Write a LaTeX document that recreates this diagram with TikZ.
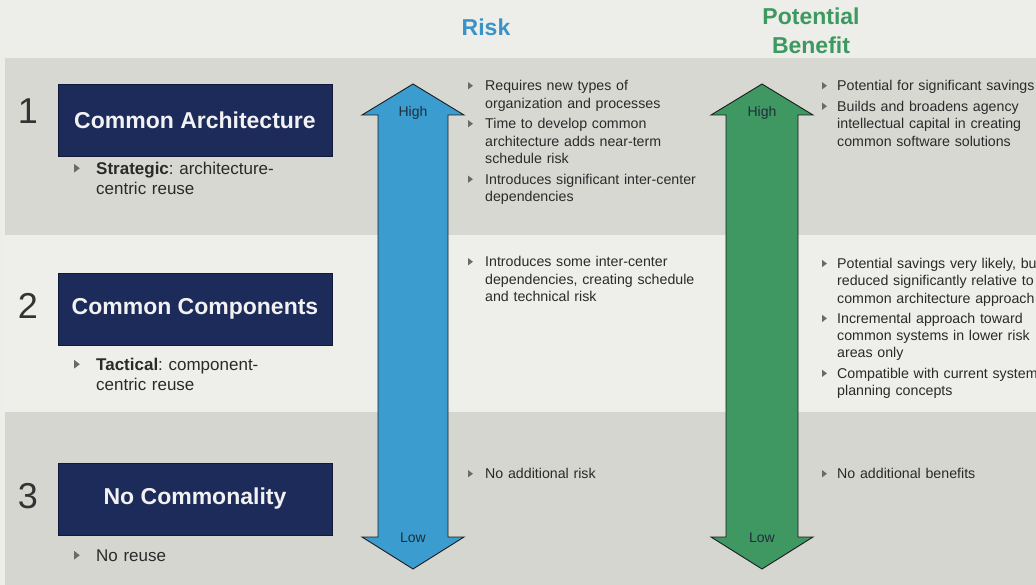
\documentclass[tikz,border=0pt]{standalone}
\usepackage{fontspec}
\setmainfont{Liberation Sans}
\frenchspacing
\definecolor{bgtop}{HTML}{EDEDEA}
\definecolor{bandA}{HTML}{D8D8D3}
\definecolor{bandB}{HTML}{EEEEEB}
\definecolor{bandC}{HTML}{D6D6D1}
\definecolor{navy}{HTML}{1D2B5A}
\definecolor{navyline}{HTML}{111A38}
\definecolor{boxtext}{HTML}{F2F2F2}
\definecolor{txtgray}{HTML}{2A2A2A}
\definecolor{numgray}{HTML}{333333}
\definecolor{bulgray}{HTML}{6A6A6A}
\definecolor{riskhead}{HTML}{3A93C6}
\definecolor{benhead}{HTML}{3D9960}
\definecolor{riskfill}{HTML}{3B9CCF}
\definecolor{benfill}{HTML}{3F9762}
\definecolor{arrline}{HTML}{1C1C1C}
\definecolor{lbltext}{HTML}{1F2E3A}
\newlength{\bulind}
\newcommand\bul{\tikz[baseline=0pt,x=1em,y=1em]\fill[bulgray] (0,0.1) -- (0,0.6) -- (0.33,0.35) -- cycle;}
\newcommand\itm[1]{\par\noindent\hangindent=\bulind\hangafter=1\makebox[\bulind][l]{\bul}\strut#1\par}
\begin{document}
\begin{tikzpicture}[x=1pt,y=-1pt,
  numlbl/.style={font=\fontsize{36}{40}\selectfont, text=numgray, inner sep=0},
  titlebox/.style={fill=navy, draw=navyline, line width=0.8pt, minimum width=274pt,
    minimum height=72pt, inner sep=0, font=\bfseries\fontsize{23}{26}\selectfont, text=boxtext},
  hdr/.style={font=\bfseries\fontsize{23}{29}\selectfont, inner sep=0, align=center},
  txtblk/.style={anchor=north west, inner sep=0, text width=340pt, align=left,
    font=\fontsize{14.2}{17.5}\selectfont, text=txtgray},
  subblk/.style={anchor=north west, inner sep=0, text width=300pt, align=left,
    font=\fontsize{17}{20}\selectfont, text=txtgray},
  arrowshape/.style={draw=arrline, line width=0.9pt, line join=miter},
  arrlbl/.style={font=\fontsize{14}{16}\selectfont, text=lbltext, inner sep=0}]
\useasboundingbox (0,0) rectangle (1036,585);
\clip (0,0) rectangle (1036,585);
% background bands
\fill[bgtop] (0,0) rectangle (1036,585);
\fill[bandA] (5,58) rectangle (1036,235);
\fill[bandB] (5,235) rectangle (1036,412);
\fill[bandC] (5,412) rectangle (1036,585);
% headers
\node[hdr, text=riskhead] (riskhdr) at (486,27) {Risk};
\node[hdr, text=benhead] (benhdr) at (811,31) {Potential\\Benefit};
% arrows
\filldraw[arrowshape, fill=riskfill] (413,84) -- (464,115) -- (448,115) -- (448,537) -- (464,537)
  -- (413,569) -- (362,537) -- (378,537) -- (378,115) -- (362,115) -- cycle;
\filldraw[arrowshape, fill=benfill] (762,84) -- (813,115) -- (798,115) -- (798,537) -- (813,537)
  -- (762,569) -- (711,537) -- (726,537) -- (726,115) -- (711,115) -- cycle;
\node[arrlbl] (riskhigh) at (413,113) {High};
\node[arrlbl] (risklow) at (413,538) {Low};
\node[arrlbl] (benhigh) at (762,113) {High};
\node[arrlbl] (benlow) at (762,538) {Low};
% numbers
\node[numlbl] (n1) at (28,111) {1};
\node[numlbl] (n2) at (28,306) {2};
\node[numlbl] (n3) at (28,496) {3};
% boxes
\node[titlebox] (b1) at (195,120) {Common Architecture};
\node[titlebox] (b2) at (195,309) {Common Components};
\node[titlebox] (b3) at (195,499) {No Commonality};
% sub bullets
\node[subblk] (s1) at (74,154) {\setlength{\bulind}{22pt}%
  \itm{\textbf{Strategic}: architecture-\newline centric reuse}};
\node[subblk] (s2) at (74,350) {\setlength{\bulind}{22pt}%
  \itm{\textbf{Tactical}: component-\newline centric reuse}};
\node[subblk] (s3) at (74,541) {\setlength{\bulind}{22pt}%
  \itm{No reuse}};
% risk texts
\node[txtblk] (r1) at (468,70) {\setlength{\bulind}{17pt}\setlength{\parskip}{3pt}%
  \itm{Requires new types of\newline organization and processes}%
  \itm{Time to develop common\newline architecture adds near-term\newline schedule risk}%
  \itm{Introduces significant inter-center\newline dependencies}};
\node[txtblk] (r2) at (468,246) {\setlength{\bulind}{17pt}\setlength{\parskip}{3pt}%
  \itm{Introduces some inter-center\newline dependencies, creating schedule\newline and technical risk}};
\node[txtblk] (r3) at (468,461) {\setlength{\bulind}{17pt}%
  \itm{No additional risk}};
% benefit texts
\node[txtblk] (p1) at (822,70) {\setlength{\bulind}{15pt}\setlength{\parskip}{3pt}%
  \itm{Potential for significant savings}%
  \itm{Builds and broadens agency\newline intellectual capital in creating\newline common software solutions}};
\node[txtblk] (p2) at (822,248) {\setlength{\bulind}{15pt}\setlength{\parskip}{3pt}\fontsize{14.2}{17.3}\selectfont%
  \itm{Potential savings very likely, but\newline reduced significantly relative to\newline common architecture approach}%
  \itm{Incremental approach toward\newline common systems in lower risk\newline areas only}%
  \itm{Compatible with current systems\newline planning concepts}};
\node[txtblk] (p3) at (822,461) {\setlength{\bulind}{15pt}%
  \itm{No additional benefits}};
\end{tikzpicture}
\end{document}
